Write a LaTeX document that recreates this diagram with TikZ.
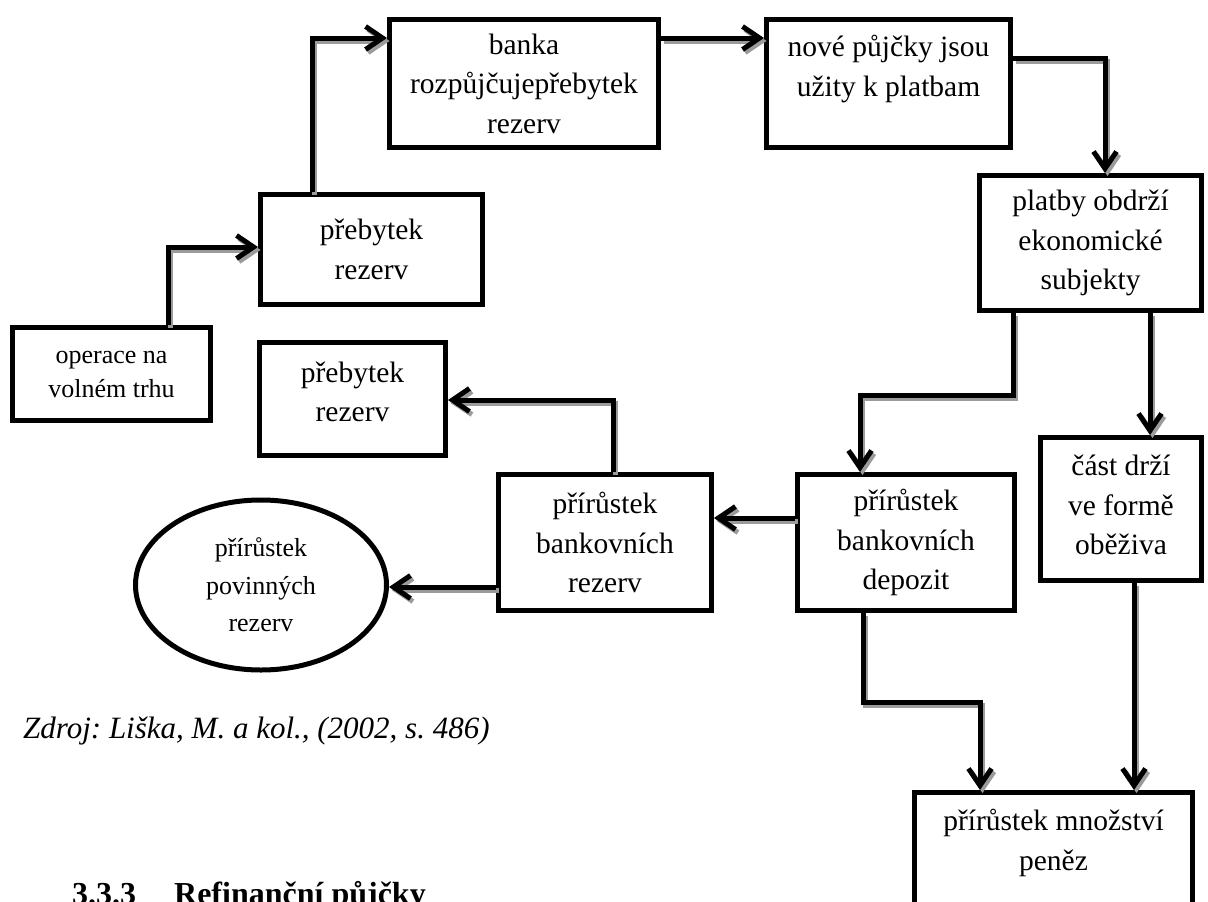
\documentclass[tikz,border=0pt]{standalone}
\usepackage{fontspec}
\setmainfont{Liberation Serif}
\usetikzlibrary{arrows.meta,shapes.geometric,calc}
\definecolor{shadowgray}{RGB}{155,155,155}
\frenchspacing
\tikzset{
  box/.style={draw, line width=5pt, rectangle, inner sep=0pt, align=center,
    font=\fontsize{29.5}{39.5}\selectfont},
  txt/.style={inner sep=0pt, align=center, font=\fontsize{29.5}{39.5}\selectfont},
  conn/.style={line width=5pt, -{Straight Barb[length=17pt,width=23pt,line width=5pt]},
    preaction={draw=shadowgray, line width=5pt, transform canvas={shift={(2.5pt,-3pt)}}}},
}
\begin{document}
\begin{tikzpicture}[x=1pt,y=-1pt]
\useasboundingbox (0,0) rectangle (1208,902);
\clip (0,0) rectangle (1208,902);
\fill[white] (0,0) rectangle (1208,902);

% boxes
\node[box, minimum width=198, minimum height=93, font=\fontsize{26}{34}\selectfont] (oper) at (111.5,374) {operace na\\volném trhu};
\node[box, minimum width=222, minimum height=110] (preb1) at (371.5,249.5) {přebytek\\rezerv};
\node[box, minimum width=269, minimum height=128] (banka) at (524,83.5) {banka\\rozpůjčujepřebytek\\rezerv};
\node[box, minimum width=244, minimum height=128] (nove) at (888.5,83.5) {};
\node[txt] (noveT) at (888.5,69) {nové půjčky jsou\\užity k platbam};
\node[box, minimum width=222, minimum height=135] (platby) at (1090.5,243) {platby obdrží\\ekonomické\\subjekty};
\node[box, minimum width=186, minimum height=113] (preb2) at (352.5,399) {};
\node[txt] (preb2T) at (352.5,392) {přebytek\\rezerv};
\node[box, minimum width=213, minimum height=136] (rez) at (605,542.5) {přírůstek\\bankovních\\rezerv};
\node[box, minimum width=217, minimum height=136] (depo) at (906,542.5) {přírůstek\\bankovních\\depozit};
\node[box, minimum width=161, minimum height=143] (cast) at (1121,509) {};
\node[txt] (castT) at (1121,505) {část drží\\ve formě\\oběživa};
\node[box, minimum width=278, minimum height=130] (mnoz) at (1053.5,857.5) {};
\node[txt] (mnozT) at (1053.5,843) {přírůstek množství\\peněz};
\node[box, ellipse, minimum width=251, minimum height=170, font=\fontsize{26}{37.5}\selectfont] (ell) at (261,585) {přírůstek\\povinných\\rezerv};

% connectors
\draw[conn] ([xshift=56.5]oper.north) |- ([yshift=2.5]preb1.west);
\draw[conn] ([xshift=-59.5]preb1.north) |- ([yshift=45.5]banka.west);
\draw[conn] ([yshift=45.5]banka.east) -- ([yshift=45.5]nove.west);
\draw[conn] ([yshift=25.5]nove.east) -| ([xshift=14.5]platby.north);
\draw[conn] ([xshift=-77.5]platby.south) -- ++(0,82) -| ([xshift=-46]depo.north);
\draw[conn] ([xshift=59.5]platby.south) -- ([xshift=29]cast.north);
\draw[conn] ([yshift=24.5]depo.west) -- ([yshift=24.5]rez.east);
\draw[conn] ([xshift=8]rez.north) |- ([yshift=-1]preb2.east);
\draw[conn] ([yshift=-44.5]rez.west) -- ([yshift=-44.5]rez.west -| ell.east);
\draw[conn] ([xshift=-43]depo.south) -- ++(0,89) -| ([xshift=-73.5]mnoz.north);
\draw[conn] ([xshift=13]cast.south) -- ([xshift=80.5]mnoz.north);

% texts
\node[anchor=base west, inner sep=0pt, font=\fontsize{31}{37}\selectfont\itshape] (zdroj) at (23,738) {Zdroj: Liška, M. a kol., (2002, s. 486)};
\node[anchor=base west, inner sep=0pt, font=\fontsize{32}{38}\selectfont\bfseries] (head) at (72,904) {3.3.3\hspace*{38pt}Refinanční půjčky};
\end{tikzpicture}
\end{document}
